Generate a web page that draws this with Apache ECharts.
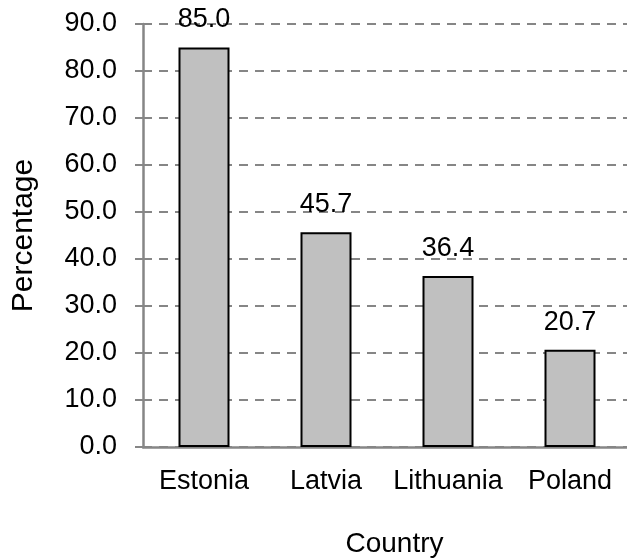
<!DOCTYPE html>
<html>
<head>
<meta charset="utf-8">
<script src="https://cdn.jsdelivr.net/npm/echarts@6/dist/echarts.min.js"></script>
<style>
  html, body { margin: 0; padding: 0; background: #fff; }
  #chart { width: 627px; height: 559px; }
</style>
</head>
<body>
<div id="chart"></div>
<script>
// Share by country (percent)
const countries = ['Estonia', 'Latvia', 'Lithuania', 'Poland'];
const percentages = [85.0, 45.7, 36.4, 20.7];
const yMin = 0;
const yMax = 90;
const yStep = 10;

const font = '"Liberation Sans", Arial, sans-serif';
const chart = echarts.init(document.getElementById('chart'), null, { renderer: 'canvas' });

chart.setOption({
  backgroundColor: '#ffffff',
  animation: false,
  grid: {
    left: 143, top: 24, width: 488, height: 423,
    containLabel: false,
    outerBoundsMode: 'none'
  },
  xAxis: {
    type: 'category',
    data: countries,
    name: 'Country',
    nameLocation: 'middle',
    nameGap: 83,
    nameTextStyle: { color: '#000', fontSize: 28, fontFamily: font, padding: [0, 0, 0, 15] },
    axisLine: { lineStyle: { color: '#868686', width: 2.5 } },
    axisTick: { show: false },
    axisLabel: { color: '#000', fontSize: 27, fontFamily: font, margin: 21, interval: 0, hideOverlap: false },
    splitLine: { show: false }
  },
  yAxis: {
    type: 'value',
    min: yMin,
    max: yMax,
    interval: yStep,
    name: 'Percentage',
    nameLocation: 'middle',
    nameGap: 104,
    nameRotate: 90,
    nameTextStyle: { color: '#000', fontSize: 30, fontFamily: font },
    axisLine: { show: true, lineStyle: { color: '#868686', width: 2.5 } },
    axisTick: { show: true, inside: false, length: 8, lineStyle: { color: '#868686', width: 2 } },
    axisLabel: {
      color: '#000', fontSize: 27, fontFamily: font, margin: 26,
      formatter: v => v.toFixed(1)
    },
    splitLine: { show: true, lineStyle: { color: '#868686', width: 2, type: [9, 7] } }
  },
  series: [{
    type: 'bar',
    data: percentages,
    barWidth: 51,
    itemStyle: { color: '#c0c0c0', borderColor: '#000', borderWidth: 2 },
    label: {
      show: true,
      position: 'top',
      distance: 14,
      color: '#000',
      fontSize: 27,
      fontFamily: font,
      formatter: p => p.value.toFixed(1)
    }
  }]
});
</script>
</body>
</html>
